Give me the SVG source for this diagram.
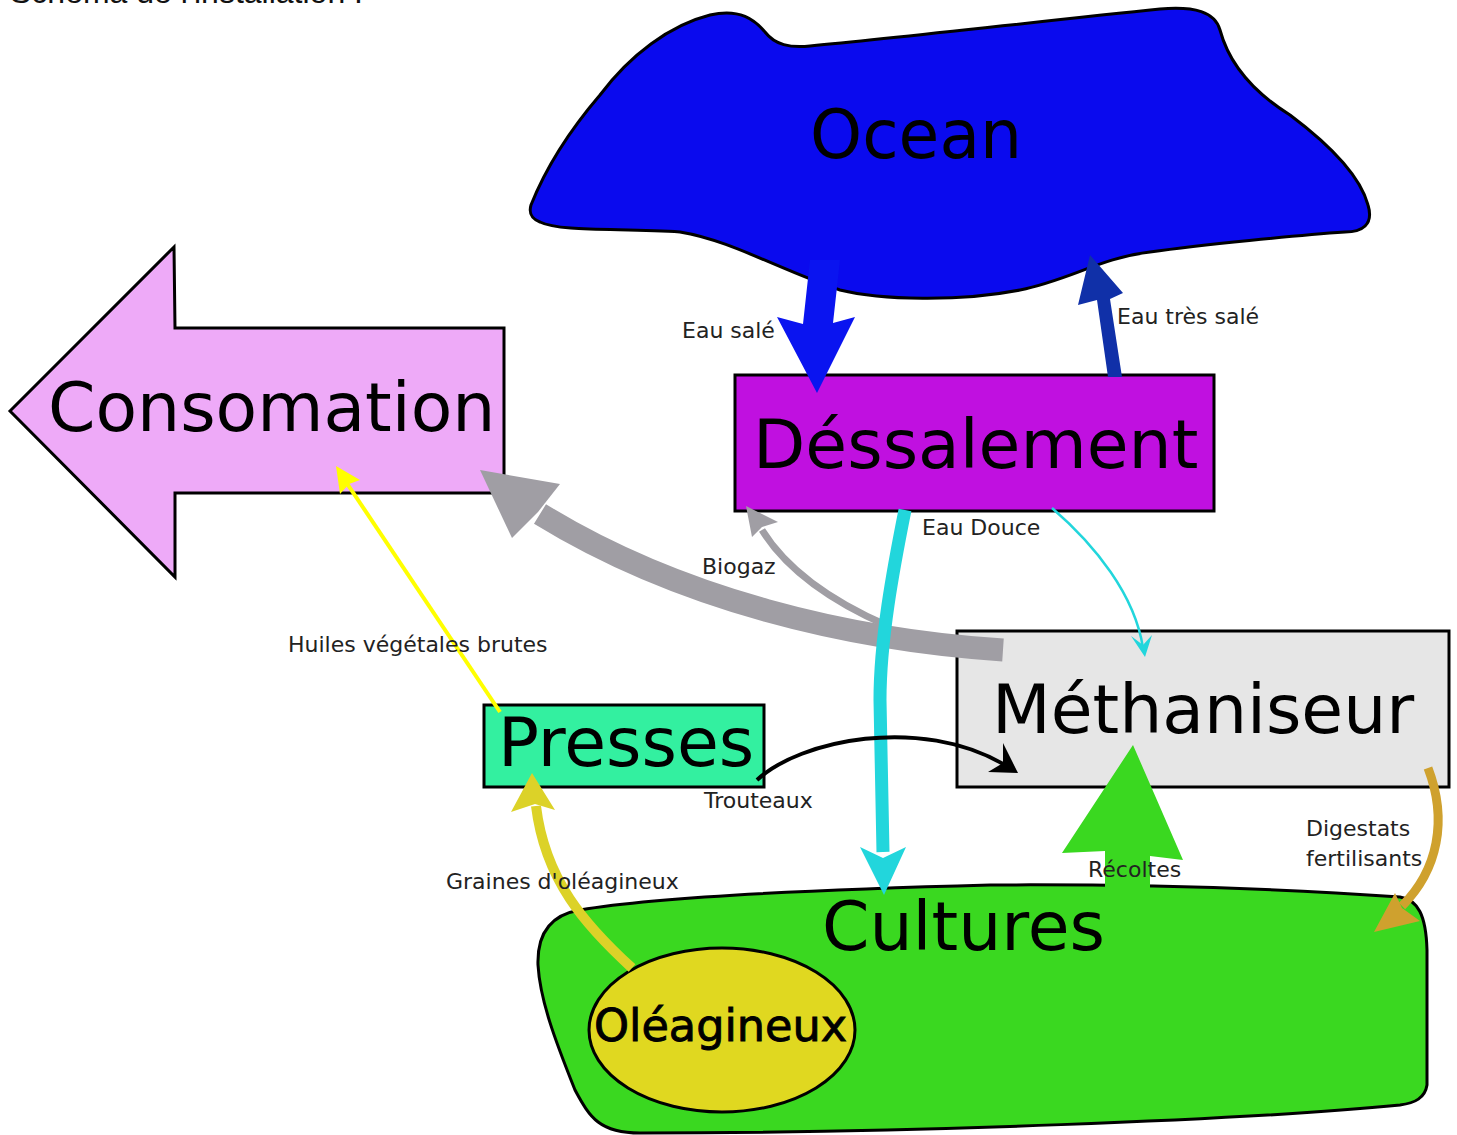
<svg xmlns="http://www.w3.org/2000/svg" width="1457" height="1135" viewBox="0 0 1457 1135">
<style>
text{font-family:"DejaVu Sans","Liberation Sans",sans-serif;fill:#000}
.big{font-size:68px}
.lbl{font-size:22px;fill:#222}
.node{stroke:#000;stroke-width:3}
.conn{fill:none}
</style>
<rect width="1457" height="1135" fill="#fff"/>
<text x="10" y="3" style="font-family:'Liberation Sans',Arial,sans-serif;font-size:32px;fill:#111">Schéma de l'installation :</text>
<g id="nodes">
<g id="ocean">
<path class="node" fill="#0a0aee" d="M531,205 C545,170 570,130 600,95 C630,55 670,25 710,15 C740,8 755,20 765,32 C775,45 790,48 810,46 C900,38 1050,20 1160,9 C1195,6 1215,12 1220,30 C1228,60 1250,90 1290,115 C1330,145 1360,175 1368,205 C1374,225 1362,232 1345,232 C1300,235 1200,245 1150,252 C1100,258 1070,280 1020,290 C960,302 880,300 840,290 C780,270 730,240 680,232 C620,228 560,232 540,222 C530,218 529,212 531,205 Z"/>
<text class="big" x="810" y="158" textLength="212" lengthAdjust="spacingAndGlyphs">Ocean</text>
</g>
<g id="dessalement">
<rect class="node" x="735" y="375" width="479" height="136" fill="#c010e0" stroke-width="2.5"/>
<text class="big" x="753" y="468">Déssalement</text>
</g>
<g id="consomation">
<polygon class="node" fill="#eeaaf8" stroke-width="2.5" points="10,411 174,247 175,328 504,328 504,493 175,493 175,577"/>
<text class="big" x="48" y="431">Consomation</text>
</g>
<g id="methaniseur">
<rect class="node" x="957" y="631" width="492" height="156" fill="#e6e6e6" stroke-width="2.5"/>
<text class="big" x="992" y="733">Méthaniseur</text>
</g>
<g id="presses">
<rect class="node" x="484" y="705" width="280" height="82" fill="#33f0a0" stroke-width="2.5"/>
<text class="big" x="498" y="766">Presses</text>
</g>
<g id="cultures">
<path class="node" fill="#3ad820" d="M580,910 C650,898 800,890 990,885 C1150,884 1300,890 1400,897 C1418,900 1426,915 1427,950 L1427,1085 C1425,1098 1415,1103 1400,1105 C1250,1120 900,1133 640,1133 C600,1133 590,1118 575,1090 C555,1040 540,1000 538,965 C537,935 550,915 580,910 Z"/>
<text class="big" x="822" y="950">Cultures</text>
</g>
<g id="oleagineux">
<ellipse class="node" cx="722" cy="1030" rx="133" ry="82" fill="#e0d820" stroke-width="2.5"/>
<text x="594" y="1041" style="font-size:44px;stroke:#000;stroke-width:0.9" textLength="253" lengthAdjust="spacingAndGlyphs">Oléagineux</text>
</g>
</g>
<g id="connectors">
<polygon fill="#0a14f0" points="810,260 840,260 833,323 855,317 817,393 777,317 803,324"/>
<polygon fill="#1030a8" points="1108,377 1122,377 1110,299 1123,293 1090,255 1078,305 1097,300"/>
<path class="conn" stroke="#a09ea4" stroke-width="23" d="M1003,650 C850,640 680,600 540,514"/>
<polygon fill="#a09ea4" points="480,470 560,484 538,512 512,538"/>
<path class="conn" stroke="#a09ea4" stroke-width="7" d="M888,626 C840,605 790,575 762,530"/>
<polygon fill="#a09ea4" points="746,506 778,522 762,527 752,537"/>
<path class="conn" stroke="#22d6dc" stroke-width="13" d="M905,510 C893,570 880,640 880,700 L883,852"/>
<polygon fill="#22d6dc" points="884,895 860,847 883,858 906,847"/>
<path class="conn" stroke="#22d6dc" stroke-width="2.5" d="M1052,508 C1095,545 1135,595 1143,648"/>
<polygon fill="#22d6dc" points="1145,657 1131,636 1143,645 1152,635"/>
<path class="conn" stroke="#ffff00" stroke-width="4" d="M500,712 L346,482"/>
<polygon fill="#ffff00" points="336,466 360,480 349,484 340,494"/>
<path class="conn" stroke="#000" stroke-width="4" d="M757,780 C800,740 920,715 1005,765"/>
<polygon fill="#000" points="1018,773 1003,743 1003,763 988,772"/>
<path class="conn" stroke="#dcd228" stroke-width="10" d="M632,968 C585,925 545,880 536,806"/>
<polygon fill="#dcd228" points="532,773 555,810 535,804 511,812"/>
<polygon fill="#3ad820" points="1105,905 1105,851 1062,853 1133,745 1183,860 1150,856 1150,905"/>
<path class="conn" stroke="#cfa12e" stroke-width="9" d="M1428,768 C1448,820 1438,870 1402,906"/>
<polygon fill="#cfa12e" points="1374,932 1395,893 1402,908 1420,921"/>
</g>
<g id="labels">
<text class="lbl" x="682" y="338">Eau salé</text>
<text class="lbl" x="1117" y="324">Eau très salé</text>
<text class="lbl" x="922" y="535">Eau Douce</text>
<text class="lbl" x="702" y="574">Biogaz</text>
<text class="lbl" x="288" y="652">Huiles végétales brutes</text>
<text class="lbl" x="704" y="808">Trouteaux</text>
<text class="lbl" x="446" y="889">Graines d'oléagineux</text>
<text class="lbl" x="1088" y="877">Récoltes</text>
<text class="lbl" x="1306" y="836">Digestats</text>
<text class="lbl" x="1306" y="866">fertilisants</text>
</g>
</svg>
